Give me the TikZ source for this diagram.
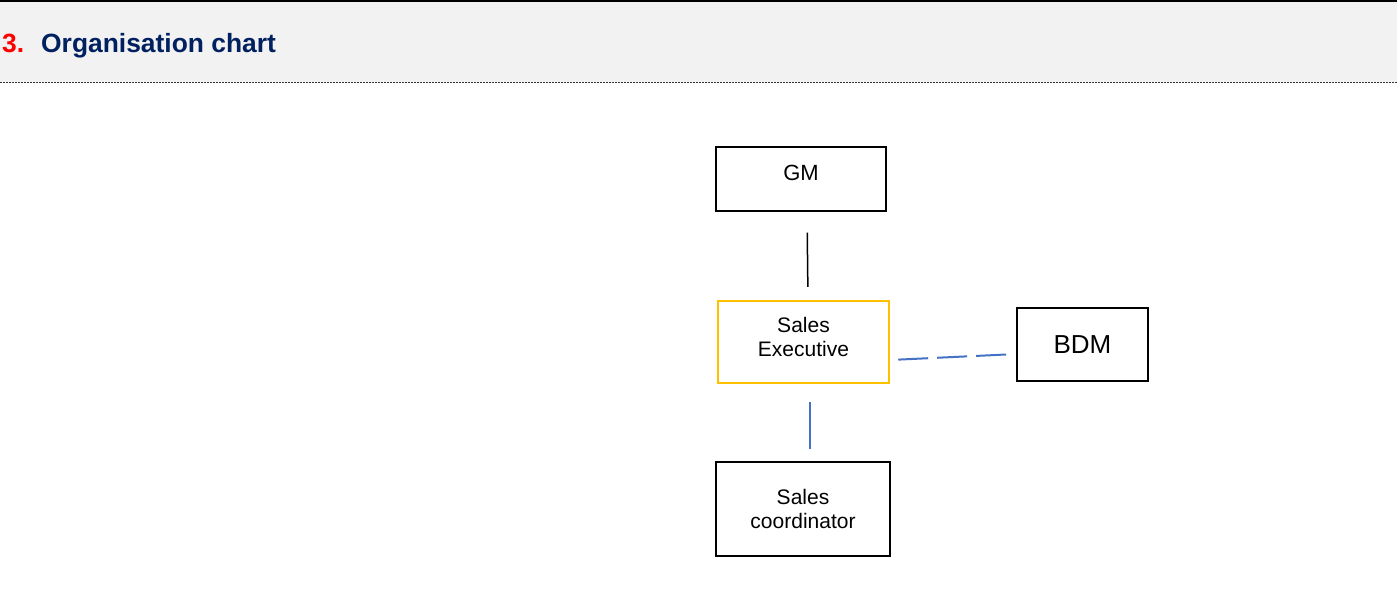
\documentclass[tikz,border=0pt]{standalone}
\usepackage{fontspec}
\setmainfont{Liberation Sans}
\definecolor{hdrgray}{HTML}{F2F2F2}
\definecolor{navy}{HTML}{002060}
\definecolor{execyellow}{HTML}{FFC000}
\definecolor{linkblue}{HTML}{4472C4}
\begin{document}
\begin{tikzpicture}[x=1pt,y=-1pt,font=\fontsize{21}{24}\selectfont,
  box/.style={draw,line width=1.2pt,inner sep=0pt,align=center},
  link/.style={line width=2pt}]
\useasboundingbox(0,0)rectangle(1397,590);
\fill[hdrgray](0,0)rectangle(1397,82);
\draw[line width=1.5pt](0,0.75)--(1397,0.75);
\draw[line width=1.3pt,dash pattern=on 1.5pt off 1.5pt,black!80](0,82.5)--(1397,82.5);
\node[anchor=base west,inner sep=0pt,font=\fontsize{26.4}{30}\selectfont\bfseries,text=red](num)at(2,52){3.};
\node[anchor=base west,inner sep=0pt,font=\fontsize{26.4}{30}\selectfont\bfseries,text=navy](title)at(41,52){Organisation chart};
\node[box,minimum width=170,minimum height=64](gm)at(801,179){};
\node[font=\fontsize{22}{26}\selectfont](gmtext)at(801,173){GM};
\node[box,draw=execyellow,line width=2.5pt,minimum width=171,minimum height=82](exec)at(803.5,342){};
\node[align=center](exectext)at(803.5,337){Sales\\Executive};
\node[box,minimum width=131,minimum height=73,font=\fontsize{26}{30}\selectfont](bdm)at(1082.5,344.5){BDM};
\node[box,line width=2.9pt,minimum width=174,minimum height=94](coord)at(803,509){Sales\\coordinator};
\draw[link,line width=1.5pt,shorten <=21pt,shorten >=13pt]([xshift=6pt]gm.south)--([xshift=4.5pt]exec.north);
\draw[link,linkblue,shorten <=18pt,shorten >=12pt]([xshift=6pt]exec.south)--([xshift=6.5pt]coord.north);
\draw[link,linkblue,dash pattern=on 30pt off 9pt,shorten <=8pt,shorten >=2pt]([yshift=-18pt]exec.east)--([yshift=-9.5pt]bdm.west);
\end{tikzpicture}
\end{document}
